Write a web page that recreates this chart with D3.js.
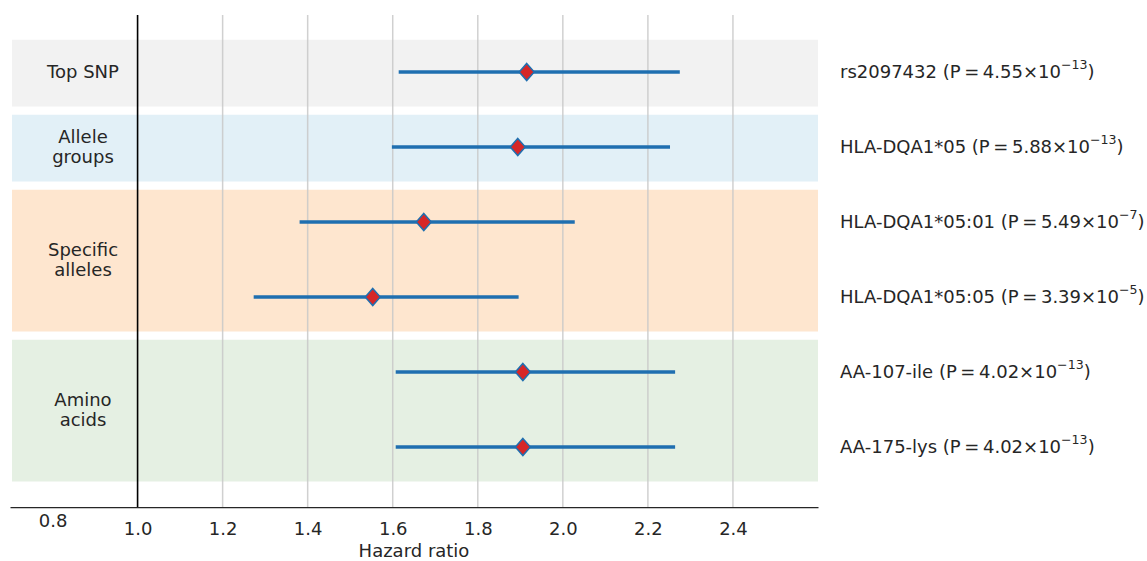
<!DOCTYPE html>
<html><head><meta charset="utf-8">
<script src="https://cdn.jsdelivr.net/npm/d3@7"></script>
<style>body{margin:0;background:#fff}svg text{font-family:"DejaVu Sans",sans-serif;fill:#262626}</style>
</head><body><svg id="c" width="1147" height="561"></svg>
<script>
const rowNames = ["rs2097432","HLA-DQA1*05","HLA-DQA1*05:01","HLA-DQA1*05:05","AA-107-ile","AA-175-lys"];
const pMantissa = ["4.55","5.88","5.49","3.39","4.02","4.02"];
const pExponent = ["\u221213","\u221213","\u22127","\u22125","\u221213","\u221213"];
const hazardRatio = [1.915,1.894,1.673,1.553,1.906,1.906];
const ciLower = [1.614,1.598,1.381,1.273,1.607,1.607];
const ciUpper = [2.275,2.252,2.028,1.896,2.264,2.264];
const groupNames = [["Top SNP"],["Allele","groups"],["Specific","alleles"],["Amino","acids"]];
const groupFirstRow = [0,1,2,4];
const groupLastRow = [0,1,3,5];
const groupColors = ["#f2f2f2","#e2f0f7","#fee6cf","#e5f0e3"];
const xTicks = [0.8,1.0,1.2,1.4,1.6,1.8,2.0,2.2,2.4];

const FS = 18;
const svg = d3.select("#c");
const x = d3.scaleLinear().domain([0.7,2.6]).range([10,818]);
const y = d3.scaleLinear().domain([-0.76,5.8]).range([15,507]);
const bandTop = 0.43, bandBottom = 0.46;

// bands
svg.selectAll("rect.band").data(groupNames).enter().append("rect")
  .attr("x",12).attr("width",818-12)
  .attr("y",(d,i)=>y(groupFirstRow[i]-bandTop))
  .attr("height",(d,i)=>y(groupLastRow[i]+bandBottom)-y(groupFirstRow[i]-bandTop))
  .attr("fill",(d,i)=>groupColors[i]);

// grid
svg.selectAll("line.grid").data(xTicks.filter(t=>t>1.05)).enter().append("line")
  .attr("x1",d=>x(d)).attr("x2",d=>x(d)).attr("y1",15).attr("y2",507)
  .attr("stroke","#c8c8c8").attr("stroke-width",1.5).attr("stroke-opacity",0.85);

// reference line
svg.append("line").attr("x1",x(1)).attr("x2",x(1)).attr("y1",15).attr("y2",507)
  .attr("stroke","#000").attr("stroke-width",1.6);

// axis
const ax = svg.append("g").attr("transform","translate(0,507)")
  .call(d3.axisBottom(x).tickValues(xTicks).tickSize(0).tickPadding(15).tickFormat(d3.format(".1f")));
ax.select(".domain").attr("stroke","#262626").attr("stroke-width",1.25);
ax.selectAll("text").attr("font-size",FS).attr("fill","#262626").style("font-family","DejaVu Sans");
ax.selectAll(".tick").filter(d=>d<0.9).select("text").attr("y",7);
svg.append("text").attr("x",(10+818)/2).attr("y",557).attr("text-anchor","middle")
  .attr("font-size",FS).text("Hazard ratio");

// CI lines
svg.selectAll("line.ci").data(rowNames).enter().append("line")
  .attr("x1",(d,i)=>x(ciLower[i])).attr("x2",(d,i)=>x(ciUpper[i]))
  .attr("y1",(d,i)=>y(i)).attr("y2",(d,i)=>y(i))
  .attr("stroke","#1f6fb0").attr("stroke-width",3.5);

// markers
svg.selectAll("path.pt").data(rowNames).enter().append("path")
  .attr("d","M0,-8.5L7.5,0L0,8.5L-7.5,0Z")
  .attr("transform",(d,i)=>`translate(${x(hazardRatio[i])},${y(i)})`)
  .attr("fill","#d62728").attr("stroke","#1f6fb0").attr("stroke-width",1.5);

// group labels
groupNames.forEach((lines,i)=>{
  const cy = (y(groupFirstRow[i])+y(groupLastRow[i]))/2;
  const t = svg.append("text").attr("text-anchor","middle").attr("font-size",FS);
  const n = lines.length;
  lines.forEach((l,j)=>{
    t.append("tspan").attr("x",83).attr("y",cy + (j-(n-1)/2)*20).attr("dy","0.35em").text(l);
  });
});

// right labels
rowNames.forEach((nm,i)=>{
  const t = svg.append("text").attr("x",840).attr("y",y(i)).attr("dy","0.35em").attr("font-size",FS);
  t.append("tspan").text(nm+" (P\u2009=\u2009"+pMantissa[i]+"\u00d710");
  t.append("tspan").attr("font-size",12.6).attr("dy","-0.75em").text(pExponent[i]);
  t.append("tspan").attr("dy","0.5em").text(")");
});
</script></body></html>
